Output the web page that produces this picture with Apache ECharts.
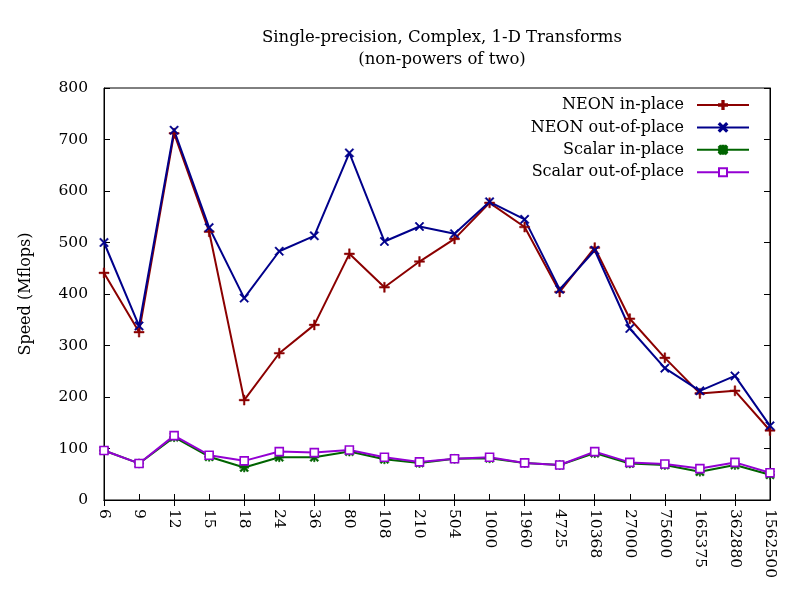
<!DOCTYPE html>
<html><head><meta charset="utf-8">
<script src="https://cdn.jsdelivr.net/npm/echarts@6/dist/echarts.min.js"></script>
<style>html,body{margin:0;padding:0;background:#fff}#c{width:800px;height:600px}</style>
</head><body><div id="c"></div>
<script>
const categories = ['6','9','12','15','18','24','36','80','108','210','504','1000','1960','4725','10368','27000','75600','165375','362880','1562500'];
const neonIn   = [441,326,712,521,194,285,340,478,413,463,507,577,530,404,490,352,276,207,212,135];
const neonOut  = [500,338,718,529,392,483,513,674,502,531,517,579,545,409,485,333,256,212,241,144];
const scalarIn = [96,71,122,84,63,83,83,94,79,72,80,81,72,68,91,71,68,55,68,49];
const scalarOut= [96,71,125,87,76,94,92,97,83,74,80,83,72,68,94,73,70,61,73,53];
const seriesNames = ['NEON in-place','NEON out-of-place','Scalar in-place','Scalar out-of-place'];
const yTicks = [0,100,200,300,400,500,600,700,800];

const FONT = '"DejaVu Serif", "Liberation Serif", serif';
const plusPath = 'path://M0,4.2 L10,4.2 L10,5.8 L0,5.8 Z M4.2,0 L5.8,0 L5.8,10 L4.2,10 Z';
const xPath = 'path://M0,1.2 L1.2,0 L5,3.8 L8.8,0 L10,1.2 L6.2,5 L10,8.8 L8.8,10 L5,6.2 L1.2,10 L0,8.8 L3.8,5 Z';
const starPath = 'path://M0,4.2 L10,4.2 L10,5.8 L0,5.8 Z M4.2,0 L5.8,0 L5.8,10 L4.2,10 Z M0,1.5 L1.5,0 L10,8.5 L8.5,10 Z M8.5,0 L10,1.5 L1.5,10 L0,8.5 Z';

function mk(name, data, color, symbol, size, hollow) {
  return {
    name, type: 'line', data, symbol, symbolSize: size,
    xAxisIndex: 0, yAxisIndex: 0,
    lineStyle: { color, width: 2 },
    itemStyle: hollow ? { color: '#fff', borderColor: color, borderWidth: 1.6 } : { color, borderColor: color, borderWidth: 0.5 },
    emphasis: { disabled: true },
    animation: false
  };
}

const chart = echarts.init(document.getElementById('c'), null, { renderer: 'canvas' });
chart.setOption({
  backgroundColor: '#fff',
  animation: false,
  title: {
    text: 'Single-precision, Complex, 1-D Transforms\n(non-powers of two)',
    left: 437, top: 22, textAlign: 'center',
    textStyle: { fontFamily: FONT, fontSize: 16.5, fontWeight: 'normal', color: '#000', lineHeight: 22 }
  },
  legend: {
    orient: 'vertical', right: 45, top: 92, align: 'right',
    itemWidth: 52, itemHeight: 10, itemGap: 6.4,
    data: seriesNames,
    textStyle: { fontFamily: FONT, fontSize: 16, color: '#000', padding: [0, 8, 0, 0] },
    selectedMode: false
  },
  grid: { left: 104, right: 30, top: 88, bottom: 100, containLabel: false, show: true, borderColor: '#000', borderWidth: 1, backgroundColor: 'transparent' },
  xAxis: [{
    type: 'category', data: categories, boundaryGap: false, position: 'bottom',
    axisLine: { lineStyle: { color: '#000', width: 1 } },
    axisTick: { inside: true, length: 6, lineStyle: { color: '#000' } },
    axisLabel: { rotate: -90, margin: 9, fontFamily: FONT, fontSize: 15.5, color: '#000', interval: 0 },
    splitLine: { show: false }
  }, {
    type: 'category', data: categories, boundaryGap: false, position: 'top',
    axisLine: { lineStyle: { color: '#000', width: 1 } },
    axisTick: { inside: true, length: 6, lineStyle: { color: '#000' } },
    axisLabel: { show: false }, splitLine: { show: false }
  }],
  yAxis: [{
    type: 'value', min: 0, max: 800, interval: 100, position: 'left',
    name: 'Speed (Mflops)', nameLocation: 'middle', nameGap: 70,
    nameTextStyle: { fontFamily: FONT, fontSize: 16, color: '#000' },
    axisLine: { show: true, lineStyle: { color: '#000', width: 1 } },
    axisTick: { show: true, inside: true, length: 6, lineStyle: { color: '#000' } },
    axisLabel: { margin: 16, fontFamily: FONT, fontSize: 15.5, color: '#000',
      formatter: v => yTicks.includes(v) ? String(v) : '' },
    splitLine: { show: false }
  }, {
    type: 'value', min: 0, max: 800, interval: 100, position: 'right',
    axisLine: { show: true, lineStyle: { color: '#000', width: 1 } },
    axisTick: { show: true, inside: true, length: 6, lineStyle: { color: '#000' } },
    axisLabel: { show: false }, splitLine: { show: false }
  }],
  series: [
    mk(seriesNames[0], neonIn, '#8b0000', plusPath, 10, false),
    mk(seriesNames[1], neonOut, '#00008b', xPath, 9, false),
    mk(seriesNames[2], scalarIn, '#006400', starPath, 9, false),
    mk(seriesNames[3], scalarOut, '#9400d3', 'rect', 8, true)
  ]
});
</script></body></html>
